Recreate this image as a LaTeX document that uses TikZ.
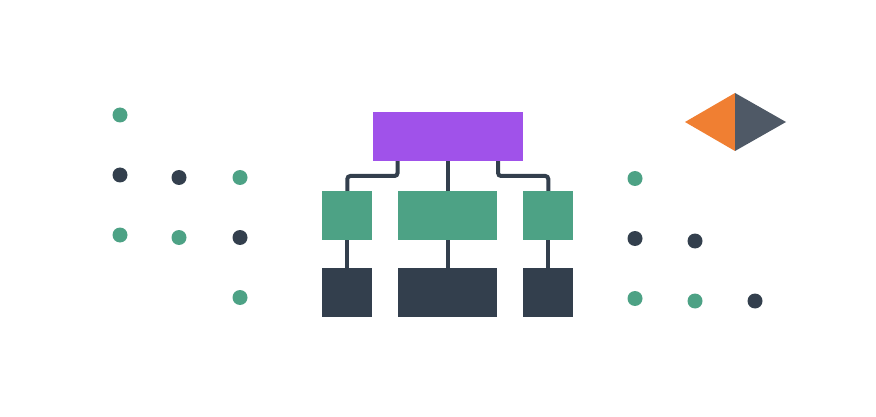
\documentclass[tikz,border=0pt]{standalone}
\usepackage{tikz}
\usetikzlibrary{trees,calc}
\definecolor{cPurple}{HTML}{A052EA}
\definecolor{cGreen}{HTML}{4DA285}
\definecolor{cDark}{HTML}{333F4D}
\definecolor{cOrange}{HTML}{F07F32}
\definecolor{cGray}{HTML}{4F5966}

\begin{document}
\begin{tikzpicture}[x=1pt, y=-1pt,
  level 1/.style={level distance=79pt, sibling distance=100.5pt},
  level 2/.style={level distance=77pt},
  every node/.style={rectangle, inner sep=0pt, minimum height=49pt},
  lead/.style={fill=cPurple, minimum width=150pt},
  team/.style={fill=cGreen, minimum width=50pt},
  unit/.style={fill=cDark, minimum width=50pt},
  wide/.style={minimum width=99pt},
  edge from parent/.style={draw=cDark, line width=4pt, rounded corners=3pt},
  edge from parent path={($(\tikzparentnode.south)!.5!(\tikzparentnode.south -| \tikzchildnode.north)$)
    -- ($(\tikzparentnode.south)!.5!(\tikzchildnode.north)$) -| (\tikzchildnode.north)}
  ]
  \useasboundingbox (0,0) rectangle (876,417);

  % org chart
  \node[lead] (head) at (447.8,136.5) {}
    child {
      node[team] (team1) {}
      child {node[unit] (unit1) {}}
    }
    child {
      node[team, wide] (team2) {}
      child {node[unit, wide] (unit2) {}}
    }
    child {
      node[team] (team3) {}
      child {node[unit] (unit3) {}}
    };

  % dots
  \foreach \x/\y/\c in {120/115/cGreen, 120/175/cDark, 179/177.5/cDark, 240/177.5/cGreen,
      120/235/cGreen, 179/237.5/cGreen, 240/237.5/cDark, 240/297.5/cGreen,
      635/178.5/cGreen, 635/238.5/cDark, 695/241/cDark,
      635/298.5/cGreen, 695/301/cGreen, 755/301/cDark}
    \fill[\c] (\x,\y) circle (7.5pt);

  % diamond
  \fill[cOrange] (685,122) -- (735,93) -- (735,151) -- cycle;
  \fill[cGray] (735,93) -- (786,122) -- (735,151) -- cycle;
\end{tikzpicture}
\end{document}
